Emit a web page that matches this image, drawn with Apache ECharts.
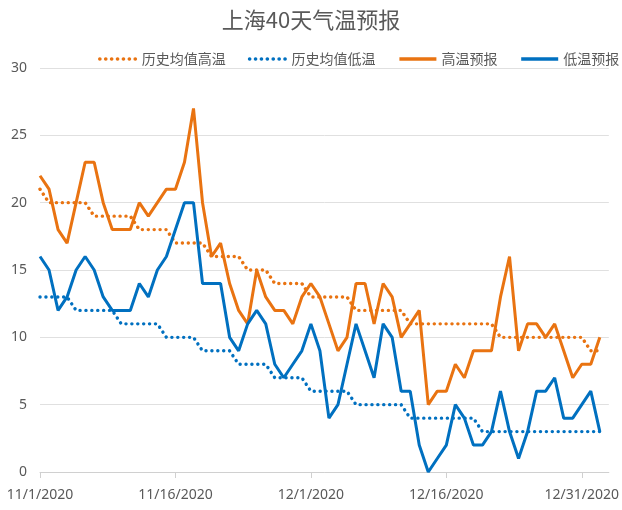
<!DOCTYPE html>
<html>
<head>
<meta charset="utf-8">
<script src="https://cdn.jsdelivr.net/npm/echarts@6/dist/echarts.min.js"></script>
<style>
  html, body { margin: 0; padding: 0; background: #fff; }
  #chart { width: 622px; height: 510px; }
</style>
</head>
<body>
<div id="chart"></div>
<script>
// daily values, 11/1/2020 .. 1/2/2021
const histHigh = [21, 20, 20, 20, 20, 20, 19, 19, 19, 19, 19, 18, 18, 18, 18, 17, 17, 17, 17, 16,
  16, 16, 16, 15, 15, 15, 14, 14, 14, 14, 13, 13, 13, 13, 13, 12, 12, 12, 12, 12,
  12, 11, 11, 11, 11, 11, 11, 11, 11, 11, 11, 10, 10, 10, 10, 10, 10, 10, 10, 10,
  10, 9, 9];
const histLow = [13, 13, 13, 13, 12, 12, 12, 12, 12, 11, 11, 11, 11, 11, 10, 10, 10, 10, 9, 9,
  9, 9, 8, 8, 8, 8, 7, 7, 7, 7, 6, 6, 6, 6, 6, 5, 5, 5, 5, 5,
  5, 4, 4, 4, 4, 4, 4, 4, 4, 3, 3, 3, 3, 3, 3, 3, 3, 3, 3, 3,
  3, 3, 3];
const highFc = [22, 21, 18, 17, 20, 23, 23, 20, 18, 18, 18, 20, 19, 20, 21, 21, 23, 27, 20, 16,
  17, 14, 12, 11, 15, 13, 12, 12, 11, 13, 14, 13, 11, 9, 10, 14, 14, 11, 14, 13,
  10, 11, 12, 5, 6, 6, 8, 7, 9, 9, 9, 13, 16, 9, 11, 11, 10, 11, 9, 7,
  8, 8, 10];
const lowFc = [16, 15, 12, 13, 15, 16, 15, 13, 12, 12, 12, 14, 13, 15, 16, 18, 20, 20, 14, 14,
  14, 10, 9, 11, 12, 11, 8, 7, 8, 9, 11, 9, 4, 5, 8, 11, 9, 7, 11, 10,
  6, 6, 2, 0, 1, 2, 5, 4, 2, 2, 3, 6, 3, 1, 3, 6, 6, 7, 4, 4,
  5, 6, 3];
const seriesNames = ["历史均值高温", "历史均值低温", "高温预报", "低温预报"];

// date categories (one extra slot so the axis runs past the last point)
const dates = [];
for (let i = 0; i < 64; i++) {
  const d = new Date(2020, 10, 1 + i);
  dates.push((d.getMonth() + 1) + "/" + d.getDate() + "/" + d.getFullYear());
}

const orange = "#E97311";
const blue = "#0070C0";
const textColor = "#595959";
const cjk = "'Noto Sans CJK SC', 'Noto Sans', sans-serif";

const chart = echarts.init(document.getElementById("chart"));

function dotted(name, data, color) {
  return {
    name, type: "line", data, symbol: "none", silent: true,
    lineStyle: { color, width: 3.4, type: [0.1, 5.8], cap: "round" },
    itemStyle: { color },
  };
}
function solid(name, data, color) {
  return {
    name, type: "line", data, symbol: "none", silent: true,
    lineStyle: { color, width: 3 },
    itemStyle: { color },
  };
}

chart.setOption({
  animation: false,
  backgroundColor: "#fff",
  title: {
    text: "上海40天气温预报",
    left: "center",
    top: 4,
    textStyle: { color: textColor, fontSize: 22, fontWeight: "normal", fontFamily: cjk },
  },
  legend: {
    data: seriesNames,
    left: 93,
    top: 47,
    width: 560,
    itemWidth: 37,
    itemHeight: 10,
    itemGap: 22,
    itemStyle: { opacity: 0 },
    lineStyle: { width: 3.6 },
    textStyle: { color: textColor, fontSize: 14, fontFamily: cjk },
  },
  grid: { left: 40, right: 13, top: 68, bottom: 38 },
  xAxis: {
    type: "category",
    data: dates,
    boundaryGap: false,
    axisLine: { lineStyle: { color: "#d0d0d0" } },
    axisTick: { interval: 14, length: 6, lineStyle: { color: "#d0d0d0" } },
    axisLabel: { interval: 14, color: textColor, fontSize: 14, margin: 16, fontFamily: "'Noto Sans', sans-serif" },
  },
  yAxis: {
    type: "value",
    min: 0,
    max: 30,
    interval: 5,
    axisLine: { show: false },
    axisTick: { show: false },
    splitLine: { lineStyle: { color: "#e0e0e0" } },
    axisLabel: { color: textColor, fontSize: 14, margin: 13, fontFamily: "'Noto Sans', sans-serif" },
  },
  series: [
    dotted(seriesNames[0], histHigh, orange),
    dotted(seriesNames[1], histLow, blue),
    solid(seriesNames[2], highFc, orange),
    solid(seriesNames[3], lowFc, blue),
  ],
});
</script>
</body>
</html>
